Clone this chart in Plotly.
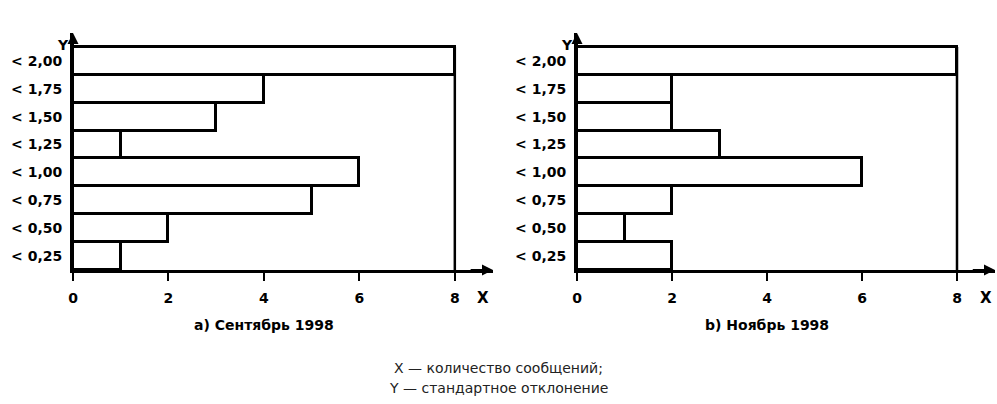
import plotly.graph_objects as go

categories = ["< 0,25", "< 0,50", "< 0,75", "< 1,00", "< 1,25", "< 1,50", "< 1,75", "< 2,00"]
sept_values = [1, 2, 5, 6, 1, 3, 4, 8]
nov_values = [2, 1, 2, 6, 3, 2, 2, 8]
x_ticks = [0, 2, 4, 6, 8]
panel_titles = ["a) Сентябрь 1998", "b) Ноябрь 1998"]
caption_lines = ["X — количество сообщений;", "Y — стандартное отклонение"]

W, H = 997, 404
BFONT = "DejaVu Sans, Arial, sans-serif"

fig = go.Figure()

panels = [("x", "y", sept_values, [73 / W, 493 / W]),
          ("x2", "y2", nov_values, [577 / W, 995 / W])]

ydom = [(404 - 270) / H, (404 - 33) / H]
xr = [0, 8.8]
yr = [-0.5, 8.0]
ypos = list(range(len(categories)))

for i, (xa, ya, vals, xdom) in enumerate(panels):
    fig.add_trace(go.Bar(
        y=ypos, x=vals, orientation="h", xaxis=xa, yaxis=ya, width=1,
        marker=dict(color="white", line=dict(color="black", width=3)),
        showlegend=False, customdata=categories,
        hovertemplate="%{customdata}: %{x}<extra></extra>",
    ))
    # right frame line at the full-scale value (top category)
    fmax = vals[-1]
    fig.add_trace(go.Scatter(
        x=[fmax, fmax], y=[-0.5, len(categories) - 0.5], mode="lines",
        xaxis=xa, yaxis=ya,
        line=dict(color="black", width=2.5), showlegend=False, hoverinfo="skip",
    ))
    sfx = "" if i == 0 else "2"
    fig.update_layout(**{
        f"xaxis{sfx}": dict(
            domain=xdom, range=xr, anchor=ya, tickvals=x_ticks,
            ticktext=[str(v) for v in x_ticks], automargin=False,
            showline=True, linecolor="black", linewidth=3,
            ticks="outside", ticklen=8, tickwidth=2, tickcolor="black",
            ticklabelstandoff=5,
            showgrid=False, zeroline=False,
            tickfont=dict(family=BFONT, size=14, color="black", weight="bold"),
            fixedrange=True,
        ),
        f"yaxis{sfx}": dict(
            domain=ydom, range=yr, anchor=xa, automargin=False,
            tickvals=ypos, ticktext=categories,
            showline=True, linecolor="black", linewidth=3,
            ticks="", showgrid=False, zeroline=False,
            tickfont=dict(family=BFONT, size=14, color="black", weight="bold"),
            ticklabelstandoff=5, fixedrange=True,
        ),
    })
    xref = xa
    yref = ya
    # x-axis arrow
    fig.add_annotation(x=8.8, y=-0.5, ax=8.3, ay=-0.5, xref=xref, yref=yref,
                       axref=xref, ayref=yref, showarrow=True, arrowhead=2,
                       arrowsize=1.1, arrowwidth=2, arrowcolor="black", text="")
    # y-axis arrow
    fig.add_annotation(x=0, y=8.0, ax=0, ay=7.5, xref=xref, yref=yref,
                       axref=xref, ayref=yref, showarrow=True, arrowhead=2,
                       arrowsize=1.1, arrowwidth=2, arrowcolor="black", text="")
    # axis letters
    fig.add_annotation(x=8.6, y=-0.5, xref=xref, yref=yref, text="X",
                       showarrow=False, yshift=-28,
                       font=dict(family=BFONT, size=15, color="black", weight="bold"))
    fig.add_annotation(x=0, y=8.0, xref=xref, yref=yref, text="Y",
                       showarrow=False, xshift=-10, yshift=-12,
                       font=dict(family=BFONT, size=14, color="black", weight="bold"))
    # panel title
    fig.add_annotation(x=4, y=-0.5, xref=xref, yref=yref, text=panel_titles[i],
                       showarrow=False, yshift=-55,
                       font=dict(family=BFONT, size=14, color="black", weight="bold"))

for j, line in enumerate(caption_lines):
    fig.add_annotation(x=0.5, y=(404 - 368 - 20 * j) / H, xref="paper", yref="paper",
                       yanchor="middle", text=line, showarrow=False,
                       font=dict(family=BFONT, size=14, color="#222222"))

fig.update_layout(
    width=W, height=H, margin=dict(l=0, r=0, t=0, b=0, autoexpand=False),
    plot_bgcolor="white", paper_bgcolor="white", bargap=0,
)

fig.write_html("out.html", config={"displayModeBar": False},
               post_script="document.body.style.margin='0';document.body.style.overflow='hidden';")
